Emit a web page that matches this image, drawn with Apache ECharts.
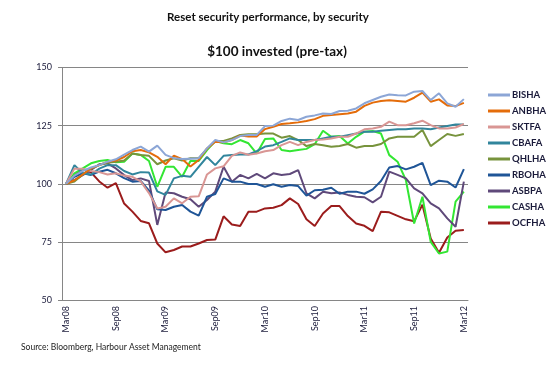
<!DOCTYPE html>
<html><head><meta charset="utf-8">
<script src="https://cdn.jsdelivr.net/npm/echarts@6/dist/echarts.min.js"></script>
<style>html,body{margin:0;padding:0;background:#fff}#c{width:550px;height:366px}</style>
</head><body><div id="c"></div>
<script>
const months = ["Mar08","Apr08","May08","Jun08","Jul08","Aug08","Sep08","Oct08","Nov08","Dec08","Jan09","Feb09",
"Mar09","Apr09","May09","Jun09","Jul09","Aug09","Sep09","Oct09","Nov09","Dec09","Jan10","Feb10",
"Mar10","Apr10","May10","Jun10","Jul10","Aug10","Sep10","Oct10","Nov10","Dec10","Jan11","Feb11",
"Mar11","Apr11","May11","Jun11","Jul11","Aug11","Sep11","Oct11","Nov11","Dec11","Jan12","Feb12","Mar12"];
const yTicks = [50, 75, 100, 125, 150];

const BISHA = [100,103.5,105.5,107,108,109.5,110.5,112.5,114.5,116,113.8,116.4,112.4,111,110.6,110.8,111,115.2,118.8,117.8,118.8,120.5,121,121,124.8,125,127,128,127.4,128.8,129.4,130.2,130,131.3,131.4,132.4,134.6,136,137.4,138.4,138.1,138,139.6,139.9,136,138.9,134.6,133.1,136.4];
const ANBHA = [100,101.5,104,106.6,108,109.5,110,111.5,114,114.5,113.5,111.6,108.4,112.1,110.6,107.4,110.2,115.2,118.1,117.8,118.8,120.7,120.3,120.3,123.5,124.5,125.7,126,126.4,127,127.8,129.2,129.6,129.9,130.2,131,133.5,134.9,135.6,135.9,135.6,135.3,137,139.2,135.3,136.3,133.7,133.4,134.8];
const SKTFA = [100,106.5,106.5,105.5,105,104,104.5,103.5,103,101,96,89.4,90.1,93.7,91.6,94.4,94.6,104,106.6,107.5,112,113.5,112.5,113,114,114.5,116.6,118,116.6,118,118.8,119,119.5,120.2,120.2,121.6,123.4,123.8,124.5,126.7,125.2,125.2,126,127.1,125.2,123.8,123.8,124.2,125.7];
const CBAFA = [100,108,104.5,104,106.5,108,108,105.5,104,105,104.8,96.7,95.2,102.3,103.4,103,107.3,111.5,108,112,112.4,112.6,112.6,114,116,116.6,118,119.5,118.8,118.8,118.8,119.5,120.2,120.2,120.9,121.6,122.4,122.4,122.8,123.1,123.4,123.4,123.8,123.8,123.4,124.2,124.8,125.5,125.5];
const QHLHA = [100,101,104,106.5,108,109,109.5,110,113,112.4,112,108.4,110,111,110,111,111,115,118.4,118.4,119.5,121,121.3,121.3,121.6,121.6,119.8,120.5,118.8,116.2,117.1,116.6,115.9,116.2,117.1,115.5,116.2,116.2,117.1,119.5,120.2,120.2,120.2,123.1,116.2,118.8,121.4,120.6,121.4];
const RBOHA = [100,103,104.5,103.8,105.2,106,104.5,102.4,100.9,101.2,97,89,88.7,90.1,90.9,88,86.3,94.4,95.6,102.3,100.9,100.9,99.9,99.9,98.7,99.8,98.7,99.5,99,94.9,97.2,97.4,98.3,95.7,96.6,96.6,95.7,97.6,101.2,107,107.6,106.2,107.3,109,99.4,101.3,100.9,98.4,106.3];
const ASBPA = [100,101.6,103.7,105.9,108.4,108.8,106.6,103.7,101.6,102.3,101.2,82.3,96.2,95.9,94.4,93.3,90.1,93,96.6,107.3,100.9,103.8,102.3,104.2,102.3,104.5,103.8,104.2,105.9,95.9,93.7,96.6,95.9,96.2,95.2,94.4,94.2,92,94.4,105.2,103.8,102.3,98,95.9,91.6,89.4,85.1,81.5,100.9];
const CASHA = [100,104.5,106.6,108.8,109.8,110.2,109.2,109.5,113,112.4,109.8,98.7,107.3,107.3,103,109.8,109.8,114.5,118.4,117.4,117,118.8,117.4,113,119.2,119.5,114.5,114,114.5,115,117,122.8,120.2,120.5,117.3,120.2,122.4,122.7,121.6,112.3,109.5,101.6,82.9,94.4,75,70,70.8,92.3,96.6];
const OCFHA = [100,103.7,106.3,104.9,101,98.3,100.3,91.5,88,84,83,74.3,70.5,71.5,73,73,74.3,75.8,76,86,82.5,81.8,88,88,89.4,89.7,90.8,93.7,91.3,84.7,81.8,87.2,90.4,90.4,86.1,82.9,81.9,79.6,88,87.7,86.2,84.7,83.9,91,76.5,70.3,76.9,79.8,80.1];

const seriesNames = ["BISHA","ANBHA","SKTFA","CBAFA","QHLHA","RBOHA","ASBPA","CASHA","OCFHA"];
const seriesData = [BISHA,ANBHA,SKTFA,CBAFA,QHLHA,RBOHA,ASBPA,CASHA,OCFHA];
const colors = ["#8CA6D6","#E46C0A","#D99694","#31859C","#77933C","#1F5597","#5F497A","#33E633","#9B1C1C"];

const chart = echarts.init(document.getElementById('c'));
chart.setOption({
  animation: false,
  backgroundColor: '#fff',
  color: colors,
  title: [
    {text: 'Reset security performance, by security', left: 263, textAlign: 'center', top: 6,
     textStyle: {fontFamily: 'Lato', fontSize: 11.5, fontWeight: 'bold', color: '#111'}},
    {text: '$100 invested (pre-tax)', left: 272, textAlign: 'center', top: 40,
     textStyle: {fontFamily: 'Lato', fontSize: 13.5, fontWeight: 'bold', color: '#111'}}
  ],
  legend: {
    orient: 'vertical', left: 483, top: 84,
    itemWidth: 22, itemHeight: 3, itemGap: 4, icon: 'rect',
    textStyle: {fontFamily: 'Lato', fontSize: 9.5, fontWeight: 'bold', color: '#1a1a3a', lineHeight: 12, padding: [0,0,0,-3]},
    data: seriesNames
  },
  grid: {left: 62, right: 82, top: 67.5, bottom: 66},
  xAxis: {
    type: 'category', data: months, boundaryGap: true,
    axisLine: {lineStyle: {color: '#868686', width: 1}},
    axisTick: {alignWithLabel: true, interval: 5, length: 4, lineStyle: {color: '#868686'}},
    axisLabel: {interval: 5, rotate: 90, fontFamily: 'Lato', fontSize: 9, color: '#1a1a3a', margin: 6},
    splitLine: {show: false}
  },
  yAxis: {
    type: 'value', min: yTicks[0], max: yTicks[yTicks.length-1], interval: 25,
    axisLine: {show: true, lineStyle: {color: '#868686'}},
    axisTick: {show: true, length: 4, inside: false, lineStyle: {color: '#868686'}},
    axisLabel: {fontFamily: 'Lato', fontSize: 9, color: '#1a1a3a', margin: 10},
    splitLine: {lineStyle: {color: '#868686', width: 1}}
  },
  series: seriesNames.map((n, k) => ({
    name: n, type: 'line', data: seriesData[k], symbol: 'none',
    lineStyle: {width: 2, color: colors[k]}, z: 10 - k
  })),
  graphic: [{type: 'text', left: 21, top: 343,
    style: {text: 'Source: Bloomberg, Harbour Asset Management', fontFamily: 'Lato', fontSize: 8.5, fill: '#222'}}]
});
</script></body></html>
